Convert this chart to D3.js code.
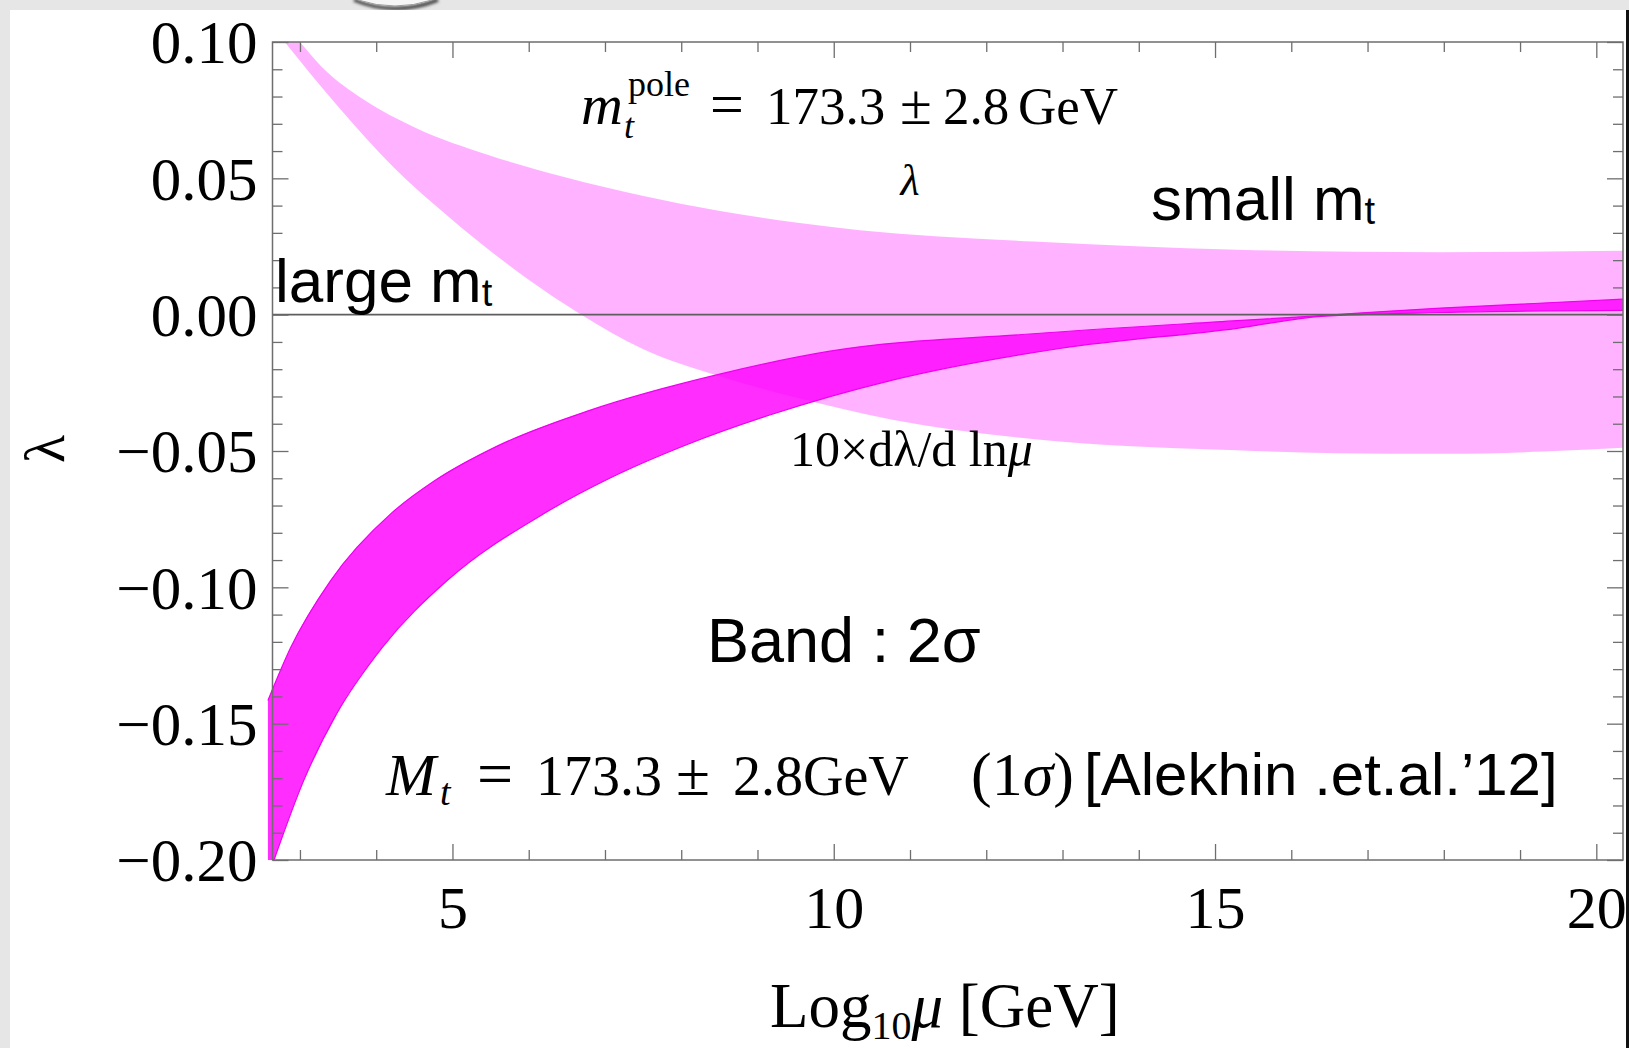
<!DOCTYPE html>
<html>
<head>
<meta charset="utf-8">
<script src="https://cdn.jsdelivr.net/npm/d3@7"></script>
<style>
  html, body { margin: 0; padding: 0; background: #e6e6e6; }
  svg { display: block; }
</style>
</head>
<body>
<svg id="chart" width="1629" height="1048"></svg>
<script>
// ---- axis ticks ----
const xMajorTicks = [5, 10, 15, 20];
const xTickLabels = ["5", "10", "15", "20"];
const yMajorTicks = [-0.2, -0.15, -0.1, -0.05, 0, 0.05, 0.1];
const yTickLabels = ["\u22120.20", "\u22120.15", "\u22120.10", "\u22120.05", "0.00", "0.05", "0.10"];

// ---- lambda band (light): small-mt edge and large-mt edge ----
const lamSmallX = [3.0, 3.3, 3.83, 4.52, 5.48, 6.49, 7.49, 8.49, 9.5, 10.34, 12.62, 15.29, 17.96, 20.35];
const lamSmallY = [0.100, 0.0905, 0.079, 0.0685, 0.0585, 0.0503, 0.0436, 0.0381, 0.0338, 0.0310, 0.0268, 0.0238, 0.0229, 0.0234];
const lamLargeX = [2.80, 3.48, 4.23, 4.98, 5.99, 6.69, 7.49, 8.49, 9.5, 10.77, 12.96, 15.29, 16.6, 18.0, 19.3, 20.35];
const lamLargeY = [0.100, 0.077, 0.054, 0.0352, 0.0130, 0.0, -0.0125, -0.0225, -0.0304, -0.0385, -0.0465, -0.0497, -0.0508, -0.0510, -0.0502, -0.0488];

// ---- 10 x dlambda/dln(mu) band (dark): upper and lower edges ----
const betaHiX = [2.58, 2.88, 3.40, 4.20, 4.75, 5.58, 6.8, 8.49, 9.95, 12.62, 15.29, 16.4, 17.96, 20.35];
const betaHiY = [-0.1415, -0.122, -0.0976, -0.0728, -0.0612, -0.0483, -0.0351, -0.0219, -0.0134, -0.0070, -0.0022, -0.0003, 0.0024, 0.0057];
const betaLoX = [2.66, 3.05, 3.48, 4.08, 4.93, 6.19, 7.06, 8.07, 9.15, 10.77, 12.96, 15.29, 16.4, 17.96, 20.35];
const betaLoY = [-0.200, -0.1708, -0.1464, -0.122, -0.0975, -0.0731, -0.0600, -0.0477, -0.0369, -0.0240, -0.0124, -0.0050, -0.0006, 0.0008, 0.0016];

const W = 1629, H = 1048;
const plot = { left: 272.5, right: 1623, top: 42, bottom: 860 };
const SERIF = "'Liberation Serif', 'Times New Roman', serif";
const SANS = "'Liberation Sans', Arial, sans-serif";
const FRAME = "#6e6e6e";

const svg = d3.select("#chart");

// page backdrop and white panel
svg.append("rect").attr("width", W).attr("height", H).attr("fill", "#e6e6e6");
svg.append("rect").attr("x", 10).attr("y", 10).attr("width", W - 10).attr("height", H - 10).attr("fill", "#ffffff");

// stray glyph edge peeking from above the panel
const defs = svg.append("defs");
defs.append("filter").attr("id", "soft").append("feGaussianBlur").attr("stdDeviation", 1.5);
svg.append("path").attr("d", "M354,0 Q395,17 438,0").attr("fill", "none")
  .attr("stroke", "#444").attr("stroke-width", 3.5).attr("filter", "url(#soft)");
svg.append("path").attr("d", "M358,0 Q395,12 432,0").attr("fill", "#f6f6f6")
  .attr("stroke", "#9a9a9a").attr("stroke-width", 1);

const x = d3.scaleLinear().domain([2.64, 20.35]).range([plot.left, plot.right]);
const y = d3.scaleLinear().domain([-0.2, 0.1]).range([plot.bottom, plot.top]);

const edge = d3.line().x(d => x(d[0])).y(d => y(d[1])).curve(d3.curveMonotoneX);

function bandPath(upX, upY, loX, loY, corners) {
  const up = d3.zip(upX, upY);
  const lo = d3.zip(loX, loY).reverse();
  let p = edge(up) + edge(lo).replace(/^M/, "L");
  (corners || []).forEach(c => { p += "L" + x(c[0]) + "," + y(c[1]); });
  return p + "Z";
}

// lambda band
svg.append("path")
  .attr("d", bandPath(lamSmallX, lamSmallY, lamLargeX, lamLargeY))
  .attr("fill", "rgb(255,0,255)").attr("fill-opacity", 0.30);

// beta band
svg.append("path")
  .attr("d", bandPath(betaHiX, betaHiY, betaLoX, betaLoY, [[2.58, -0.2]]))
  .attr("fill", "rgb(255,0,255)").attr("fill-opacity", 0.82);
[[betaHiX, betaHiY], [betaLoX, betaLoY]].forEach(([bx, by]) => {
  svg.append("path").attr("d", edge(d3.zip(bx, by)))
    .attr("fill", "none").attr("stroke", "rgb(238,0,238)").attr("stroke-width", 1.2);
});

// zero line
svg.append("line")
  .attr("x1", plot.left).attr("x2", plot.right)
  .attr("y1", y(0)).attr("y2", y(0))
  .attr("stroke", "#5e5e5e").attr("stroke-width", 1.6);

// frame
svg.append("rect")
  .attr("x", plot.left).attr("y", plot.top)
  .attr("width", plot.right - plot.left).attr("height", plot.bottom - plot.top)
  .attr("fill", "none").attr("stroke", FRAME).attr("stroke-width", 1.5);

const xMinor = d3.range(3, 21).filter(v => !xMajorTicks.includes(v));
const yMinor = d3.range(-20, 11).map(i => i / 100).filter(v => !yMajorTicks.some(m => Math.abs(m - v) < 1e-9));

function styleAxis(g) {
  g.select(".domain").remove();
  g.selectAll(".tick line").attr("stroke", FRAME).attr("stroke-width", 1.3);
  g.selectAll(".tick text").attr("fill", "#000").attr("font-family", SERIF);
}

const yLab = d => yTickLabels[yMajorTicks.findIndex(m => Math.abs(m - d) < 1e-9)];
const xLab = d => xTickLabels[xMajorTicks.indexOf(d)];

// left axis with labels
svg.append("g").attr("transform", `translate(${plot.left},0)`)
  .call(d3.axisLeft(y).tickValues(yMajorTicks).tickSize(-16).tickPadding(15).tickFormat(yLab))
  .call(styleAxis)
  .call(g => g.selectAll(".tick text").attr("font-size", 61).attr("dy", "0.34em"));
svg.append("g").attr("transform", `translate(${plot.left},0)`)
  .call(d3.axisLeft(y).tickValues(yMinor).tickSize(-10).tickFormat(""))
  .call(styleAxis);

// right axis, ticks only
svg.append("g").attr("transform", `translate(${plot.right},0)`)
  .call(d3.axisRight(y).tickValues(yMajorTicks).tickSize(-16).tickFormat(""))
  .call(styleAxis);
svg.append("g").attr("transform", `translate(${plot.right},0)`)
  .call(d3.axisRight(y).tickValues(yMinor).tickSize(-10).tickFormat(""))
  .call(styleAxis);

// bottom axis with labels
svg.append("g").attr("transform", `translate(0,${plot.bottom})`)
  .call(d3.axisBottom(x).tickValues(xMajorTicks).tickSize(-16).tickPadding(25).tickFormat(xLab))
  .call(styleAxis)
  .call(g => g.selectAll(".tick text").attr("font-size", 60));
svg.append("g").attr("transform", `translate(0,${plot.bottom})`)
  .call(d3.axisBottom(x).tickValues(xMinor).tickSize(-10).tickFormat(""))
  .call(styleAxis);

// top axis, ticks only
svg.append("g").attr("transform", `translate(0,${plot.top})`)
  .call(d3.axisTop(x).tickValues(xMajorTicks).tickSize(-16).tickFormat(""))
  .call(styleAxis);
svg.append("g").attr("transform", `translate(0,${plot.top})`)
  .call(d3.axisTop(x).tickValues(xMinor).tickSize(-10).tickFormat(""))
  .call(styleAxis);

// axis titles
const xt = svg.append("text").attr("x", 770).attr("y", 1027)
  .attr("font-family", SERIF).attr("font-size", 63).attr("fill", "#000");
xt.append("tspan").text("Log");
xt.append("tspan").attr("font-size", 40).attr("dy", 12).text("10");
xt.append("tspan").attr("dy", -12).attr("font-style", "italic").text("\u03bc");
xt.append("tspan").text(" [GeV]");

svg.append("text")
  .attr("transform", "translate(64,449) rotate(-90)")
  .attr("text-anchor", "middle")
  .attr("font-family", SERIF).attr("font-size", 58).attr("fill", "#000")
  .text("\u03bb");

// annotations: pole-mass label
const ann = svg.append("g").attr("fill", "#000");
ann.append("text").attr("x", 581).attr("y", 124).attr("font-family", SERIF)
  .attr("font-size", 58).attr("font-style", "italic").text("m");
ann.append("text").attr("x", 628).attr("y", 96).attr("font-family", SERIF)
  .attr("font-size", 36).text("pole");
ann.append("text").attr("x", 624).attr("y", 138).attr("font-family", SERIF)
  .attr("font-size", 36).attr("font-style", "italic").text("t");
const mp = ann.append("text").attr("y", 124).attr("font-family", SERIF).attr("font-size", 53);
mp.append("tspan").attr("x", 710).attr("font-size", 60).text("=");
mp.append("tspan").attr("x", 766).text("173.3");
mp.append("tspan").attr("x", 900).attr("font-size", 58).text("\u00b1");
mp.append("tspan").attr("x", 943).text("2.8");
mp.append("tspan").attr("x", 1018).text("GeV");

ann.append("text").attr("x", 910).attr("y", 195).attr("text-anchor", "middle")
  .attr("font-family", SERIF).attr("font-size", 44).attr("font-style", "italic").text("\u03bb");

// small / large top mass
[["small m", 1151, 220], ["large m", 275, 302]].forEach(([s, tx, ty]) => {
  const t = ann.append("text").attr("x", tx).attr("y", ty)
    .attr("font-family", SANS).attr("font-size", 62);
  t.append("tspan").text(s);
  t.append("tspan").attr("font-size", 38).attr("dy", 4).text("t");
});

// derivative label
const dl = ann.append("text").attr("x", 790).attr("y", 466)
  .attr("font-family", SERIF).attr("font-size", 50);
dl.append("tspan").text("10\u00d7d\u03bb/d ln");
dl.append("tspan").attr("font-style", "italic").text("\u03bc");

ann.append("text").attr("x", 707).attr("y", 662)
  .attr("font-family", SANS).attr("font-size", 63).text("Band : 2\u03c3");

// input mass label
const ml = ann.append("text").attr("y", 795).attr("font-family", SERIF).attr("font-size", 56);
ml.append("tspan").attr("x", 386).attr("font-style", "italic").attr("font-size", 60).text("M");
ml.append("tspan").attr("x", 440).attr("dy", 10).attr("font-size", 38).attr("font-style", "italic").text("t");
ml.append("tspan").attr("x", 477).attr("dy", -10).attr("font-size", 64).text("=");
ml.append("tspan").attr("x", 536).text("173.3");
ml.append("tspan").attr("x", 676).attr("font-size", 62).text("\u00b1");
ml.append("tspan").attr("x", 733).text("2.8GeV");
ml.append("tspan").attr("x", 971).attr("font-size", 62).text("(1");
ml.append("tspan").attr("font-size", 62).attr("font-style", "italic").text("\u03c3");
ml.append("tspan").attr("font-size", 62).text(")");
ann.append("text").attr("x", 1084).attr("y", 795)
  .attr("font-family", SANS).attr("font-size", 60).text("[Alekhin .et.al.\u201912]");

// dark right border of the panel
svg.append("rect").attr("x", 1626).attr("y", 10).attr("width", 3).attr("height", H - 10).attr("fill", "#111");
</script>
</body>
</html>
